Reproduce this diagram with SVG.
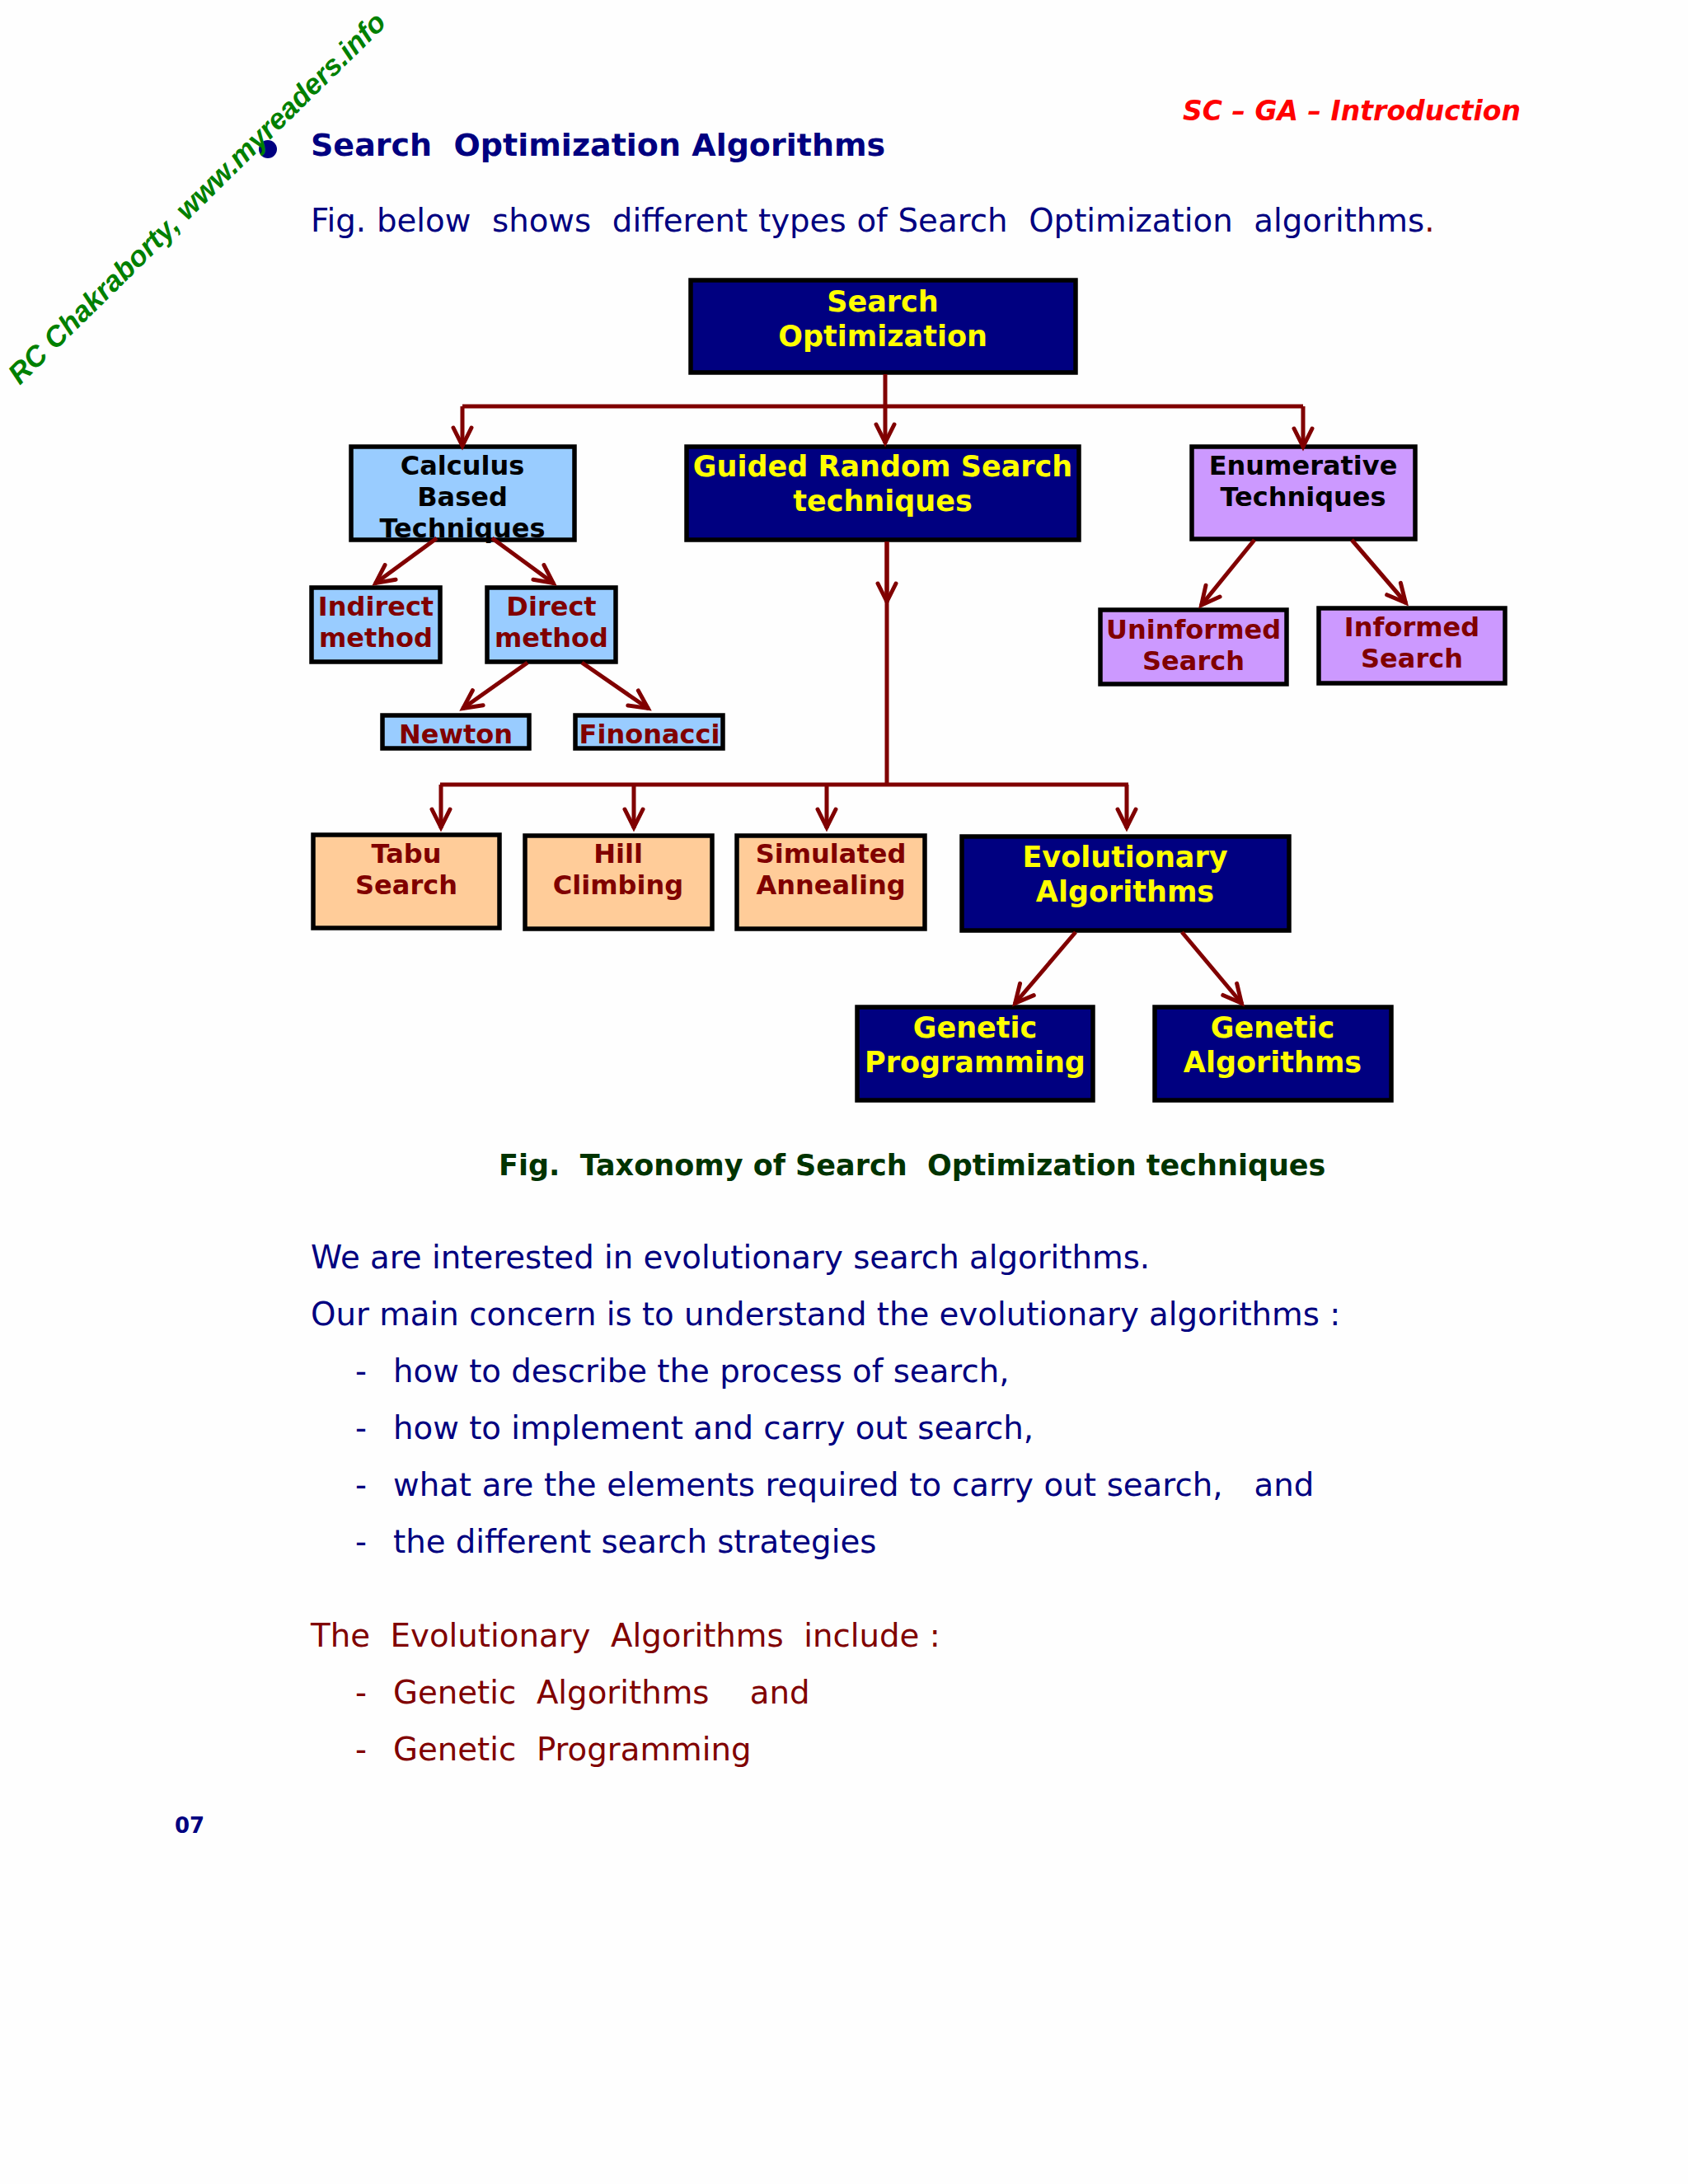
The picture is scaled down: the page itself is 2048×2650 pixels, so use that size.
<svg xmlns="http://www.w3.org/2000/svg" width="2048" height="2650" viewBox="0 0 2048 2650">
<defs>
<marker id="arrow" markerUnits="userSpaceOnUse" markerWidth="50" markerHeight="50" refX="41" refY="25" orient="auto" viewBox="0 0 50 50"><path d="M18 14 L40 25 L18 36" fill="none" stroke="#800000" stroke-width="5" stroke-linecap="round" stroke-linejoin="miter"/></marker>
</defs>
<style>
text{font-family:"DejaVu Sans","Liberation Sans",sans-serif;white-space:pre}
.box{stroke:#000;stroke-width:5.5}
.navy{fill:#000080}.blue{fill:#99ccff}.purple{fill:#cc99ff}.peach{fill:#ffcc99}
.lbl{font-weight:bold;text-anchor:middle;font-size:32px}
.big{font-size:35px}
.y{fill:#ffff00}.k{fill:#000}.m{fill:#800000}
.body{font-size:38.7px;fill:#000080}
.red{font-size:38.7px;fill:#800000}
.line{fill:none;stroke:#800000;stroke-width:5}
.arr{fill:none;stroke:#800000;stroke-width:5;marker-end:url(#arrow)}
</style>
<rect width="2048" height="2650" fill="#fefefe"/>
<g id="header">
<text x="1435" y="146" font-size="33" font-weight="bold" font-style="italic" fill="#ff0000">SC – GA – Introduction</text>
<circle cx="325" cy="181" r="11" fill="#000080"/>
<text x="377" y="189" font-size="38" font-weight="bold" fill="#000080">Search  Optimization Algorithms</text>
<text x="377" y="281" class="body" word-spacing="0.55">Fig. below  shows  different types of Search  Optimization  algorithms<tspan fill="#800000">.</tspan></text>
<text transform="translate(24 468) rotate(-44.5)" font-size="35" font-weight="bold" font-style="italic" fill="#008000" style="font-family:'Liberation Sans',Arial,sans-serif">RC Chakraborty, www.myreaders.info</text>
</g>
<g id="nodes">
<g id="n-search"><rect class="box navy" x="838" y="340" width="467" height="112"/><text class="lbl y big" x="1071" y="378">Search</text><text class="lbl y big" x="1071" y="420">Optimization</text></g>
<g id="n-calculus"><rect class="box blue" x="426" y="542" width="271" height="113"/><text class="lbl k" x="561" y="576">Calculus</text><text class="lbl k" x="561" y="614">Based</text><text class="lbl k" x="561" y="652">Techniques</text></g>
<g id="n-guided"><rect class="box navy" x="833" y="542" width="476" height="113"/><text class="lbl y big" x="1071" y="578">Guided Random Search</text><text class="lbl y big" x="1071" y="620">techniques</text></g>
<g id="n-enum"><rect class="box purple" x="1446" y="542" width="271" height="112"/><text class="lbl k" x="1581" y="576">Enumerative</text><text class="lbl k" x="1581" y="614">Techniques</text></g>
<g id="n-indirect"><rect class="box blue" x="378" y="713" width="156" height="90"/><text class="lbl m" x="456" y="747">Indirect</text><text class="lbl m" x="456" y="785">method</text></g>
<g id="n-direct"><rect class="box blue" x="591" y="713" width="156" height="90"/><text class="lbl m" x="669" y="747">Direct</text><text class="lbl m" x="669" y="785">method</text></g>
<g id="n-newton"><rect class="box blue" x="464" y="868" width="178" height="40"/><text class="lbl m" x="553" y="902">Newton</text></g>
<g id="n-finonacci"><rect class="box blue" x="698" y="868" width="179" height="40"/><text class="lbl m" x="788" y="902">Finonacci</text></g>
<g id="n-uninformed"><rect class="box purple" x="1335" y="740" width="226" height="90"/><text class="lbl m" x="1448" y="775">Uninformed</text><text class="lbl m" x="1448" y="813">Search</text></g>
<g id="n-informed"><rect class="box purple" x="1600" y="738" width="226" height="91"/><text class="lbl m" x="1713" y="772">Informed</text><text class="lbl m" x="1713" y="810">Search</text></g>
<g id="n-tabu"><rect class="box peach" x="380" y="1013" width="226" height="113"/><text class="lbl m" x="493" y="1047">Tabu</text><text class="lbl m" x="493" y="1085">Search</text></g>
<g id="n-hill"><rect class="box peach" x="637" y="1014" width="227" height="113"/><text class="lbl m" x="750" y="1047">Hill</text><text class="lbl m" x="750" y="1085">Climbing</text></g>
<g id="n-simulated"><rect class="box peach" x="894" y="1014" width="228" height="113"/><text class="lbl m" x="1008" y="1047">Simulated</text><text class="lbl m" x="1008" y="1085">Annealing</text></g>
<g id="n-evolutionary"><rect class="box navy" x="1167" y="1015" width="397" height="114"/><text class="lbl y big" x="1365" y="1052">Evolutionary</text><text class="lbl y big" x="1365" y="1094">Algorithms</text></g>
<g id="n-genprog"><rect class="box navy" x="1040" y="1222" width="286" height="113"/><text class="lbl y big" x="1183" y="1259">Genetic</text><text class="lbl y big" x="1183" y="1301">Programming</text></g>
<g id="n-genalg"><rect class="box navy" x="1401" y="1222" width="287" height="113"/><text class="lbl y big" x="1544" y="1259">Genetic</text><text class="lbl y big" x="1544" y="1301">Algorithms</text></g>
</g>
<g id="connectors">
<path class="line" d="M561 493H1581"/>
<path class="arr" d="M1074 454V538"/>
<path class="arr" d="M561 493V542"/>
<path class="arr" d="M1581 493V543"/>
<path class="arr" d="M530 653L455 708"/>
<path class="arr" d="M597 653L672 708"/>
<path class="arr" d="M640 804L561 860"/>
<path class="arr" d="M706 804L787 860"/>
<path class="arr" d="M1522 655L1457 735"/>
<path class="arr" d="M1640 655L1706 732"/>
<path class="line" d="M1076 657V952"/>
<path class="arr" d="M1076 657V731"/>
<path class="line" d="M534 952H1369"/>
<path class="arr" d="M535 952V1005"/>
<path class="arr" d="M769 952V1005"/>
<path class="arr" d="M1003 952V1005"/>
<path class="arr" d="M1367 952V1005"/>
<path class="arr" d="M1305 1131L1231 1218"/>
<path class="arr" d="M1434 1131L1507 1218"/>
</g>
<g id="text">
<text x="605" y="1426" font-size="35" font-weight="bold" fill="#003300">Fig.  Taxonomy of Search  Optimization techniques</text>
<text x="377" y="1539" class="body">We are interested in evolutionary search algorithms.</text>
<text x="377" y="1608" class="body">Our main concern is to understand the evolutionary algorithms :</text>
<text x="431" y="1677" class="body">-</text><text x="477" y="1677" class="body">how to describe the process of search,</text>
<text x="431" y="1746" class="body">-</text><text x="477" y="1746" class="body">how to implement and carry out search,</text>
<text x="431" y="1815" class="body">-</text><text x="477" y="1815" class="body" word-spacing="0.4">what are the elements required to carry out search,   and</text>
<text x="431" y="1884" class="body">-</text><text x="477" y="1884" class="body">the different search strategies</text>
<text x="377" y="1998" class="red">The  Evolutionary  Algorithms  include :</text>
<text x="431" y="2067" class="red">-</text><text x="477" y="2067" class="red">Genetic  Algorithms    and</text>
<text x="431" y="2136" class="red">-</text><text x="477" y="2136" class="red">Genetic  Programming</text>
<text x="212" y="2224" font-size="26" font-weight="bold" fill="#000080">07</text>
</g>
</svg>
